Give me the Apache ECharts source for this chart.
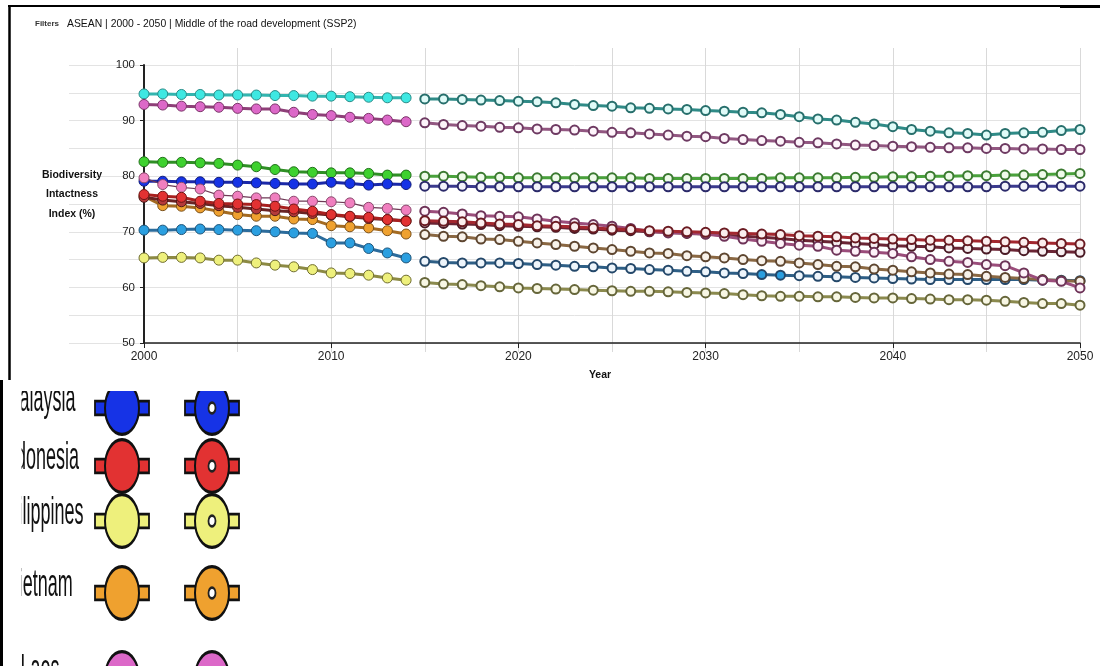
<!DOCTYPE html>
<html>
<head>
<meta charset="utf-8">
<script src="https://cdn.jsdelivr.net/npm/echarts@6/dist/echarts.min.js"></script>
<style>
  html, body { margin: 0; padding: 0; background: #fff; }
  #chart { width: 1109px; height: 666px; }
</style>
</head>
<body>
<div id="chart"></div>
<script>
// ---- Data: Biodiversity Intactness Index (%), ASEAN, SSP2 ----
const histYears = [2000, 2001, 2002, 2003, 2004, 2005, 2006, 2007, 2008, 2009, 2010, 2011, 2012, 2013, 2014];
const projYears = [2015, 2016, 2017, 2018, 2019, 2020, 2021, 2022, 2023, 2024, 2025, 2026, 2027, 2028, 2029,
                   2030, 2031, 2032, 2033, 2034, 2035, 2036, 2037, 2038, 2039, 2040, 2041, 2042, 2043, 2044,
                   2045, 2046, 2047, 2048, 2049, 2050];

const histBrunei = [94.8, 94.8, 94.7, 94.7, 94.6, 94.6, 94.6, 94.5, 94.5, 94.4, 94.4, 94.3, 94.2, 94.1, 94.1];
const projBrunei = [93.9, 93.9, 93.8, 93.7, 93.6, 93.5, 93.4, 93.2, 92.9, 92.7, 92.6, 92.3, 92.2, 92.1, 92.0,
                    91.8, 91.7, 91.5, 91.4, 91.1, 90.7, 90.3, 90.1, 89.7, 89.4, 88.9, 88.4, 88.1, 87.8, 87.7,
                    87.4, 87.7, 87.8, 87.9, 88.2, 88.4];

const histLaos = [92.9, 92.8, 92.6, 92.5, 92.4, 92.2, 92.1, 92.1, 91.5, 91.1, 90.9, 90.6, 90.4, 90.1, 89.8];
const projLaos = [89.6, 89.3, 89.1, 89.0, 88.8, 88.7, 88.5, 88.4, 88.3, 88.1, 87.9, 87.8, 87.6, 87.4, 87.2,
                  87.1, 86.8, 86.6, 86.4, 86.3, 86.1, 86.0, 85.8, 85.6, 85.5, 85.4, 85.3, 85.2, 85.1, 85.1,
                  85.0, 85.0, 84.9, 84.9, 84.8, 84.8];

const histCambodia = [82.6, 82.5, 82.5, 82.4, 82.3, 82.0, 81.7, 81.2, 80.8, 80.7, 80.6, 80.6, 80.5, 80.2, 80.2];
const projCambodia = [80.0, 80.0, 79.9, 79.8, 79.8, 79.7, 79.7, 79.7, 79.7, 79.7, 79.7, 79.7, 79.6, 79.6, 79.6,
                      79.6, 79.6, 79.6, 79.6, 79.7, 79.7, 79.7, 79.7, 79.8, 79.8, 79.9, 79.9, 80.0, 80.0, 80.1,
                      80.1, 80.2, 80.2, 80.3, 80.4, 80.5];

const histMalaysia = [79.1, 79.1, 79.0, 79.0, 78.9, 78.9, 78.8, 78.7, 78.6, 78.6, 78.9, 78.7, 78.4, 78.6, 78.5];
const projMalaysia = [78.2, 78.2, 78.2, 78.1, 78.1, 78.1, 78.1, 78.1, 78.1, 78.1, 78.1, 78.1, 78.1, 78.1, 78.1,
                      78.1, 78.1, 78.1, 78.1, 78.1, 78.1, 78.1, 78.1, 78.1, 78.1, 78.1, 78.1, 78.1, 78.1, 78.1,
                      78.1, 78.2, 78.2, 78.2, 78.2, 78.2];

const histMyanmar = [79.7, 78.5, 78.0, 77.7, 76.6, 76.4, 76.1, 76.1, 75.5, 75.5, 75.4, 75.2, 74.4, 74.2, 73.9];
const projMyanmar = [73.7, 73.5, 73.2, 72.9, 72.8, 72.7, 72.3, 71.9, 71.6, 71.3, 71.0, 70.6, 70.1, 69.8, 69.8,
                     69.6, 69.2, 68.7, 68.3, 67.9, 67.6, 67.4, 66.7, 66.5, 66.3, 66.1, 65.5, 65.0, 64.7, 64.5,
                     64.1, 63.9, 62.6, 61.3, 61.1, 59.9];

const histIndonesia = [76.7, 76.4, 76.2, 75.5, 75.1, 75.0, 74.9, 74.6, 74.1, 73.7, 73.1, 72.8, 72.6, 72.2, 71.9];
const projIndonesia = [72.0, 71.9, 71.8, 71.6, 71.4, 71.3, 71.1, 71.0, 70.9, 70.7, 70.5, 70.4, 70.2, 70.1, 70.0,
                       69.9, 69.8, 69.7, 69.6, 69.5, 69.3, 69.2, 69.1, 68.9, 68.8, 68.7, 68.6, 68.5, 68.5, 68.4,
                       68.3, 68.2, 68.1, 68.0, 67.9, 67.8];

const histAsean = [76.2, 75.7, 75.4, 75.1, 74.7, 74.4, 74.1, 73.8, 73.6, 73.3, 73.0, 72.7, 72.4, 72.2, 72.0];
const projAsean = [71.6, 71.5, 71.4, 71.3, 71.1, 71.0, 70.9, 70.8, 70.6, 70.5, 70.3, 70.2, 70.0, 69.9, 69.7,
                   69.6, 69.4, 69.2, 69.0, 68.8, 68.5, 68.3, 68.1, 67.9, 67.7, 67.5, 67.4, 67.3, 67.1, 67.0,
                   66.9, 66.8, 66.6, 66.5, 66.4, 66.3];

const histVietnam = [76.4, 74.7, 74.6, 74.3, 73.7, 73.1, 72.8, 72.8, 72.3, 72.2, 71.1, 70.9, 70.7, 70.2, 69.6];
const projVietnam = [69.5, 69.2, 69.1, 68.7, 68.6, 68.3, 68.0, 67.7, 67.4, 67.1, 66.8, 66.5, 66.2, 66.1, 65.7,
                     65.5, 65.3, 65.0, 64.8, 64.7, 64.4, 64.1, 63.8, 63.7, 63.3, 63.1, 62.8, 62.6, 62.4, 62.3,
                     62.0, 61.8, 61.6, 61.4, 61.2, 61.1];

const histThailand = [70.3, 70.3, 70.4, 70.5, 70.4, 70.3, 70.2, 70.0, 69.8, 69.7, 68.0, 68.0, 67.0, 66.2, 65.3];
const projThailand = [64.7, 64.5, 64.4, 64.4, 64.4, 64.3, 64.1, 64.0, 63.8, 63.7, 63.5, 63.4, 63.2, 63.1, 62.9,
                      62.8, 62.6, 62.5, 62.3, 62.2, 62.1, 62.0, 61.9, 61.8, 61.7, 61.6, 61.5, 61.4, 61.4, 61.4,
                      61.4, 61.4, 61.4, 61.3, 61.3, 61.2];

const histPhilippines = [65.3, 65.4, 65.4, 65.3, 64.9, 64.9, 64.4, 64.0, 63.7, 63.2, 62.6, 62.5, 62.2, 61.7, 61.3];
const projPhilippines = [60.9, 60.6, 60.5, 60.3, 60.1, 59.9, 59.8, 59.7, 59.6, 59.5, 59.4, 59.3, 59.3, 59.2, 59.1,
                         59.0, 58.9, 58.7, 58.5, 58.4, 58.4, 58.3, 58.3, 58.2, 58.1, 58.1, 58.0, 57.9, 57.8, 57.8,
                         57.7, 57.5, 57.3, 57.1, 57.1, 56.8];

// Country order (drawing order, back to front)
const countries = ['Brunei', 'Laos', 'Cambodia', 'Malaysia', 'Thailand', 'Philippines',
                   'Vietnam', 'ASEAN', 'Myanmar', 'Indonesia'];
const histValues = {
  Brunei: histBrunei, Laos: histLaos, Cambodia: histCambodia, Malaysia: histMalaysia,
  Myanmar: histMyanmar, Indonesia: histIndonesia, ASEAN: histAsean, Vietnam: histVietnam,
  Thailand: histThailand, Philippines: histPhilippines
};
const projValues = {
  Brunei: projBrunei, Laos: projLaos, Cambodia: projCambodia, Malaysia: projMalaysia,
  Myanmar: projMyanmar, Indonesia: projIndonesia, ASEAN: projAsean, Vietnam: projVietnam,
  Thailand: projThailand, Philippines: projPhilippines
};

// Legend rows shown below the plot
const legendNames = ['Malaysia', 'Indonesia', 'Philippines', 'Vietnam', 'Laos'];

// ---- Styles ----
const styles = {
  Brunei:      { fill: '#3ee8e2', line: '#33b5af', edge: '#2a8c88', projLine: '#2f8b87', projEdge: '#276f6c', projFill: '#e0fbf8' },
  Laos:        { fill: '#dc68c8', line: '#8e3f78', edge: '#7a3468', projLine: '#925781', projEdge: '#6e3a62', projFill: '#fdf4fa' },
  Cambodia:    { fill: '#3ed12f', line: '#2f8f25', edge: '#23701c', projLine: '#4aa23c', projEdge: '#3b7a30', projFill: '#effbea' },
  Malaysia:    { fill: '#1633e6', line: '#1a28a8', edge: '#111c78', projLine: '#3b3a8e', projEdge: '#2b2a6a', projFill: '#f3f3fb' },
  Myanmar:     { fill: '#f07fbf', line: '#6e3a56', edge: '#8a4a6e', projLine: '#9b4d7b', projEdge: '#6e3358', projFill: '#fdf2f8', width: 1.2 },
  Indonesia:   { fill: '#e23232', line: '#a8201f', edge: '#6e1414', projLine: '#a3272f', projEdge: '#6b1b22', projFill: '#fbeeee' },
  ASEAN:       { fill: '#b53a3a', line: '#6a2424', edge: '#4a1818', projLine: '#6b2535', projEdge: '#4a1a25', projFill: '#f6eef0' },
  Vietnam:     { fill: '#efa12f', line: '#a46b22', edge: '#7a501a', projLine: '#8a6843', projEdge: '#5e4630', projFill: '#f8f2ea' },
  Thailand:    { fill: '#2b9fe0', line: '#2c6c9c', edge: '#1f5478', projLine: '#2e5f86', projEdge: '#24486a', projFill: '#eef5fb' },
  Philippines: { fill: '#eef07c', line: '#8c8a44', edge: '#6e6c30', projLine: '#8b8a4e', projEdge: '#66663a', projFill: '#f8f7e4' }
};
// projected points drawn with a solid marker
const solidProjYears = { Thailand: [2033, 2034] };

const narrow = '"Liberation Sans Narrow", "Arial Narrow", "Liberation Sans", sans-serif';
const sans = '"Liberation Sans", Arial, sans-serif';

const series = [];
countries.forEach(function (name) {
  const st = styles[name];
  series.push({
    type: 'line', name: name, xAxisIndex: 0, yAxisIndex: 0,
    data: histYears.map(function (y, i) { return [y, histValues[name][i]]; }),
    symbol: 'circle', symbolSize: 10,
    lineStyle: { color: st.line, width: st.width || 3 },
    itemStyle: { color: st.fill, borderColor: st.edge, borderWidth: 1 },
    emphasis: { disabled: true }
  });
});
countries.forEach(function (name) {
  const st = styles[name];
  const solid = solidProjYears[name] || [];
  series.push({
    type: 'line', name: name + ' (SSP2)', xAxisIndex: 0, yAxisIndex: 0,
    data: projYears.map(function (y, i) {
      const item = { value: [y, projValues[name][i]] };
      if (solid.indexOf(y) >= 0) item.itemStyle = { color: st.fill };
      return item;
    }),
    symbol: 'circle', symbolSize: 9,
    lineStyle: { color: st.projLine, width: 3 },
    itemStyle: { color: st.projFill, borderColor: st.projEdge, borderWidth: 2 },
    emphasis: { disabled: true }
  });
});

// ---- Legend rows (enlarged swatches: filled = observed, hollow = projected) ----
const legendRowY = [408, 466, 521, 593, 678];
const legendGraphics = [];
legendNames.forEach(function (name, i) {
  const c = styles[name].fill;
  legendGraphics.push({
    type: 'group', x: 0, y: legendRowY[i], scaleY: 2.14, z: 50,
    children: [
      { type: 'text', x: 40, y: -3.5,
        style: { text: name, font: '18px ' + sans, fill: '#111',
                 align: 'center', textAlign: 'center', verticalAlign: 'middle', textVerticalAlign: 'middle' } }
    ]
  });
  legendGraphics.push({
    type: 'group', x: 0, y: legendRowY[i], scaleY: 1.55, z: 50,
    children: [
      { type: 'rect', shape: { x: 95, y: -4.5, width: 54, height: 9 },
        style: { fill: c, stroke: '#111', lineWidth: 1.8 } },
      { type: 'circle', shape: { cx: 122, cy: 0, r: 17 },
        style: { fill: c, stroke: '#111', lineWidth: 2 } },
      { type: 'rect', shape: { x: 185, y: -4.5, width: 54, height: 9 },
        style: { fill: c, stroke: '#111', lineWidth: 1.8 } },
      { type: 'circle', shape: { cx: 212, cy: 0, r: 17 },
        style: { fill: c, stroke: '#111', lineWidth: 2 } },
      { type: 'circle', shape: { cx: 212, cy: 0, r: 3.5 },
        style: { fill: '#fff', stroke: '#222', lineWidth: 1.8 } }
    ]
  });
});

const chart = echarts.init(document.getElementById('chart'), null, { renderer: 'canvas' });
chart.setOption({
  animation: false,
  backgroundColor: '#fff',
  title: {
    left: 30, top: 14,
    text: '{a|Filters}{b|ASEAN | 2000 - 2050 | Middle of the road development (SSP2)}',
    textStyle: {
      rich: {
        a: { fontSize: 8, fontWeight: 'bold', fontFamily: sans, color: '#333', padding: [0, 8, 0, 0] },
        b: { fontSize: 10.4, fontWeight: 'normal', fontFamily: sans, color: '#111' }
      }
    }
  },
  grid: [
    { left: 144, right: 29, top: 65, bottom: 323 },   // data
    { left: 69, right: 29, top: 65, bottom: 323 },    // horizontal guide lines
    { left: 144, right: 29, top: 48, bottom: 314 }    // vertical guide lines
  ],
  xAxis: [
    {
      gridIndex: 0, type: 'value', min: 2000, max: 2050, interval: 10,
      name: 'Year', nameLocation: 'middle', nameGap: 27,
      nameTextStyle: { fontWeight: 'bold', fontSize: 10.5, fontFamily: sans, color: '#111', padding: [0, 24, 0, 0] },
      axisLine: { show: true, lineStyle: { color: '#222', width: 1.5 } },
      axisTick: { show: true, length: 5, lineStyle: { color: '#222' } },
      axisLabel: { margin: 8, fontSize: 12, fontFamily: narrow, color: '#222', formatter: function (v) { return String(v); } },
      splitLine: { show: false }
    },
    { gridIndex: 1, type: 'value', min: 2000, max: 2050, show: false },
    {
      gridIndex: 2, type: 'value', min: 2000, max: 2050, interval: 5,
      axisLine: { show: false }, axisTick: { show: false }, axisLabel: { show: false },
      splitLine: { show: true, showMinLine: false, lineStyle: { color: '#d9d9d9', width: 1 } }
    }
  ],
  yAxis: [
    {
      gridIndex: 0, type: 'value', min: 50, max: 100, interval: 10,
      name: 'Biodiversity\nIntactness\nIndex (%)\n', nameLocation: 'middle', nameGap: 72, nameRotate: 0,
      nameTextStyle: { align: 'center', verticalAlign: 'middle', fontWeight: 'bold', fontSize: 10.5,
                       fontFamily: sans, color: '#111', lineHeight: 19.5 },
      axisLine: { show: true, lineStyle: { color: '#222', width: 2 } },
      axisTick: { show: true, length: 4, lineStyle: { color: '#222' } },
      axisLabel: { margin: 9, fontSize: 11.5, fontFamily: narrow, color: '#222' },
      splitLine: { show: false }
    },
    {
      gridIndex: 1, type: 'value', min: 50, max: 100, interval: 5,
      axisLine: { show: false }, axisTick: { show: false }, axisLabel: { show: false },
      splitLine: { show: true, lineStyle: { color: '#e3e3e3', width: 1 } }
    },
    { gridIndex: 2, type: 'value', min: 0, max: 1, show: false }
  ],
  series: series,
  graphic: legendGraphics.concat([
    // crop edges of the legend panel
    { type: 'rect', z: 100, shape: { x: 2.5, y: 368, width: 250, height: 23 }, style: { fill: '#fff' } },
    { type: 'rect', z: 100, shape: { x: 2.5, y: 388, width: 19, height: 280 }, style: { fill: '#fff' } },
    // frame
    { type: 'line', z: 101, shape: { x1: 8, y1: 6, x2: 1100, y2: 6 }, style: { stroke: '#000', lineWidth: 2 } },
    { type: 'line', z: 101, shape: { x1: 1060, y1: 6.5, x2: 1100, y2: 6.5 }, style: { stroke: '#000', lineWidth: 3 } },
    { type: 'line', z: 101, shape: { x1: 9.5, y1: 5, x2: 9.5, y2: 380 }, style: { stroke: '#000', lineWidth: 2.5 } },
    { type: 'line', z: 101, shape: { x1: 1.5, y1: 380, x2: 1.5, y2: 666 }, style: { stroke: '#000', lineWidth: 3 } }
  ])
});
</script>
</body>
</html>
